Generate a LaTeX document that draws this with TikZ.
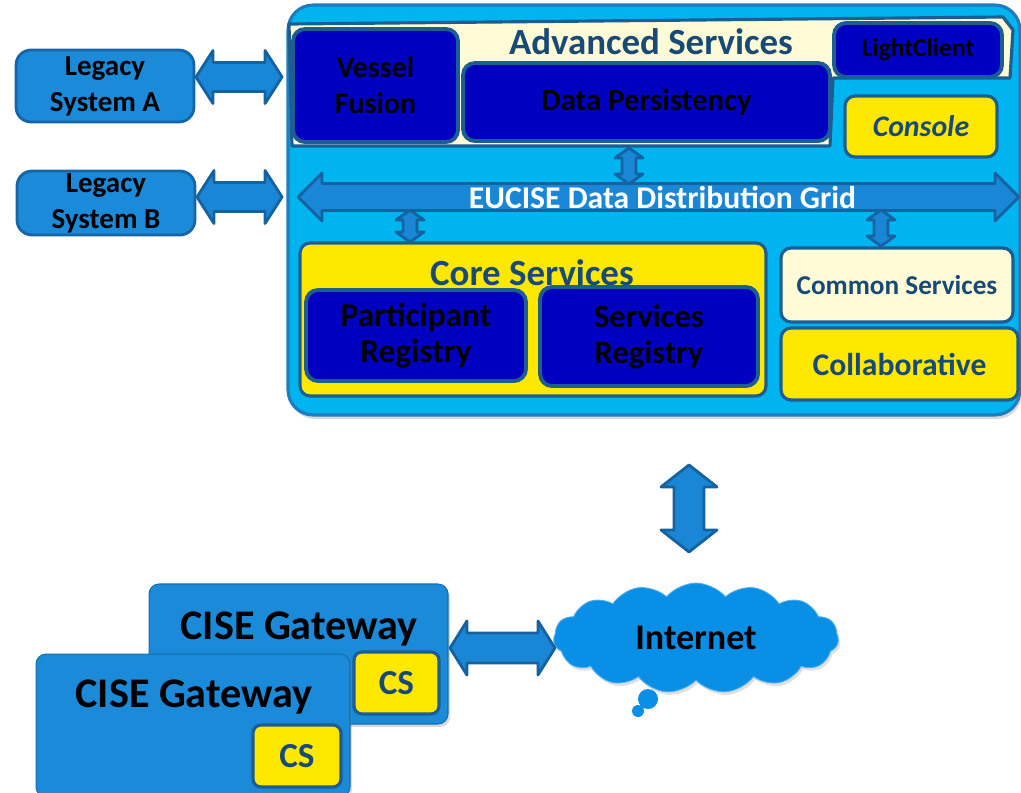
\documentclass[tikz,border=0pt]{standalone}
\usepackage{fontspec}
\setmainfont{Carlito}
\usetikzlibrary{calc,positioning,shapes.symbols,shadows}

\definecolor{mainfill}{HTML}{00B4F0}
\definecolor{mainedge}{HTML}{1E7CC0}
\definecolor{midblue}{HTML}{1A8AD9}
\definecolor{midedge}{HTML}{1565A8}
\definecolor{darkbox}{HTML}{0000C0}
\definecolor{boxedge}{HTML}{1C5E92}
\definecolor{ylw}{HTML}{FFE800}
\definecolor{cream}{HTML}{FFFBD6}
\definecolor{titletext}{HTML}{184A78}
\definecolor{arrowfill}{HTML}{1A86D6}
\definecolor{arrowedge}{HTML}{1462A0}
\definecolor{cloudfill}{HTML}{0A8FE6}

% fat double arrow: from, to, shaft half width, head half width, head length (px)
\newcommand{\fatarrow}[5]{%
  \pgfmathsetlengthmacro\fatS{#3*0.02cm}%
  \pgfmathsetlengthmacro\fatH{#4*0.02cm}%
  \pgfmathsetlengthmacro\fatL{#5*0.02cm}%
  \coordinate (fa1) at (#1);
  \coordinate (fa2) at (#2);
  \coordinate (fb1) at ($(fa1)!\fatL!(fa2)$);
  \coordinate (fb2) at ($(fa2)!\fatL!(fa1)$);
  \filldraw[fat arrow] (fa1) -- ($(fb1)!\fatH!90:(fa2)$) -- ($(fb1)!\fatS!90:(fa2)$)
    -- ($(fb2)!\fatS!-90:(fa1)$) -- ($(fb2)!\fatH!-90:(fa1)$) -- (fa2)
    -- ($(fb2)!\fatH!90:(fa1)$) -- ($(fb2)!\fatS!90:(fa1)$)
    -- ($(fb1)!\fatS!-90:(fa2)$) -- ($(fb1)!\fatH!-90:(fa2)$) -- cycle;
}

\tikzset{
  fat arrow/.style={draw=arrowedge, fill=arrowfill, line width=1.6pt, line join=round},
  fsz/.style={font=\bfseries\fontsize{#1}{20.5}\selectfont},
}

\begin{document}
\begin{tikzpicture}[x=0.02cm, y=-0.02cm,
  every node/.style={inner sep=0pt, outer sep=0pt, align=center},
  main box/.style={draw=mainedge, line width=1.8pt, fill=mainfill, rounded corners=0.5cm,
    drop shadow={opacity=0.3, shadow xshift=0.04cm, shadow yshift=-0.08cm}},
  cream band/.style={draw=boxedge, line width=1.8pt, fill=cream, line join=round},
  dark box/.style={draw=boxedge, line width=2.2pt, fill=darkbox, rounded corners=0.24cm, text=black},
  yellow box/.style={draw=boxedge, line width=1.8pt, fill=ylw, rounded corners=0.2cm, text=titletext},
  cream box/.style={draw=boxedge, line width=1.8pt, fill=cream, rounded corners=0.2cm, text=titletext},
  mid box/.style={draw=midedge, line width=1.6pt, fill=midblue, rounded corners=0.3cm, text=black},
  gate box/.style={draw=midblue!80!black, line width=0.6pt, fill=midblue, rounded corners=0.2cm,
    drop shadow={opacity=0.3, shadow xshift=0.04cm, shadow yshift=-0.06cm}},
  cs box/.style={draw=boxedge, line width=1.8pt, fill=ylw, rounded corners=0.16cm, text=titletext},
  title text/.style={text=titletext, fsz=21},
]
\useasboundingbox (0,0) rectangle (1021,792);

% EUCISE node
\node[main box, minimum width=14.64cm, minimum height=8.2cm] (main) at (654,210) {};
\draw[cream band] (289,24) -- (1003,17) -- (1013,30) -- (1010,78) -- (833,78) -- (830,146) -- (292,146) -- cycle;
\node[dark box, fsz=17, minimum width=3.3cm, minimum height=2.26cm] (vessel) at (375.5,85.5) {Vessel\\Fusion};
\node[title text] (advtitle) at (651,42) {Advanced Services};
\node[dark box, fsz=14.5, minimum width=3.36cm, minimum height=1.08cm] (light) at (918,50) {LightClient};
\node[dark box, fsz=17.5, minimum width=7.34cm, minimum height=1.56cm] (dp) at (646.5,102) {Data Persistency};
\node[yellow box, font=\bfseries\itshape\fontsize{17}{20}\selectfont, minimum width=3.04cm, minimum height=1.22cm] (console) at (921,126.5) {Console};

\node[yellow box, minimum width=9.32cm, minimum height=3.06cm] (core) at (533,319.5) {};
\node[title text] (coretitle) at (532,273) {Core Services};
\node[dark box, fsz=19, minimum width=4.4cm, minimum height=1.82cm] (partreg) at (416,335.5) {Participant\\Registry};
\node[dark box, fsz=18.5, minimum width=4.36cm, minimum height=1.98cm] (servreg) at (649,336.5) {Services\\Registry};
\node[cream box, fsz=15.5, minimum width=4.64cm, minimum height=1.48cm] (common) at (897,285) {Common Services};
\node[yellow box, fsz=18, minimum width=4.74cm, minimum height=1.44cm] (collab) at (899.5,364) {Collaborative};

% legacy systems
\node[mid box, fsz=16.5, minimum width=3.56cm, minimum height=1.44cm] (legA) at (105,86) {Legacy\\System A};
\node[mid box, fsz=16.5, minimum width=3.56cm, minimum height=1.28cm] (legB) at (106,203) {Legacy\\System B};

% gateways
\node[gate box, minimum width=5.98cm, minimum height=2.8cm] (gwback) at (298.5,654) {};
\node[fsz=24] (gwbacktxt) at (299,629) {CISE Gateway};
\node[cs box, fsz=20, minimum width=1.7cm, minimum height=1.24cm] (csback) at (396.5,683) {CS};
\node[gate box, minimum width=6.28cm, minimum height=2.86cm] (gwfront) at (193,725.5) {};
\node[fsz=24] (gwfronttxt) at (194,697) {CISE Gateway};
\node[cs box, fsz=20, minimum width=1.76cm, minimum height=1.24cm] (csfront) at (297,756) {CS};

% internet
\node[cloud, cloud puffs=15, cloud puff arc=100, aspect=2.6, draw=cloudfill!70!white, line width=0.5pt, fill=cloudfill,
  minimum width=5.7cm, minimum height=2.2cm, fsz=20.5,
  drop shadow={opacity=0.25, shadow xshift=0.04cm, shadow yshift=-0.06cm}] (internet) at (696,638) {Internet};
\fill[cloudfill] (648,699) circle (0.2cm) (638,711) circle (0.12cm);

% connectors
\coordinate (aA) at ($(legA.east)+(2,-9)$);
\coordinate (bA) at ($(main.west |- aA)+(-6,0)$);
\fatarrow{aA}{bA}{14.5}{26.5}{17}
\coordinate (aB) at ($(legB.east)+(2,-6)$);
\coordinate (bB) at ($(main.west |- aB)+(-6,0)$);
\fatarrow{aB}{bB}{14.5}{26.5}{17}

\coordinate (gw) at ($(main.west)+(10,-13)$);
\coordinate (ge) at ($(main.east)+(-1,-13)$);
\fatarrow{gw}{ge}{13.5}{24}{24}
\node[fsz=18, text=white] (gridtxt) at ($(gw)!0.5!(ge)+(4,0)$) {EUCISE Data Distribution Grid};

\coordinate (dpa) at ($(dp.south)+(-17.5,7)$);
\coordinate (dpb) at ($(dpa |- gw)+(0,-13)$);
\fatarrow{dpa}{dpb}{7}{14}{10}
\coordinate (cga) at ($(core.north)+(-123,-33)$);
\coordinate (cgb) at ($(core.north)+(-123,-1)$);
\fatarrow{cga}{cgb}{7}{14}{10}
\coordinate (cma) at ($(common.north)+(-16,-38)$);
\coordinate (cmb) at ($(common.north)+(-16,-2)$);
\fatarrow{cma}{cmb}{7}{14}{10}

\coordinate (ia) at ($(main.south)+(35,50)$);
\coordinate (ib) at ($(main.south)+(35,137)$);
\fatarrow{ia}{ib}{15}{28}{22}
\coordinate (ga) at ($(gwback.east)+(2,-6)$);
\coordinate (gb) at ($(gwback.east)+(107,-6)$);
\fatarrow{ga}{gb}{15}{27}{17}
\end{tikzpicture}
\end{document}
